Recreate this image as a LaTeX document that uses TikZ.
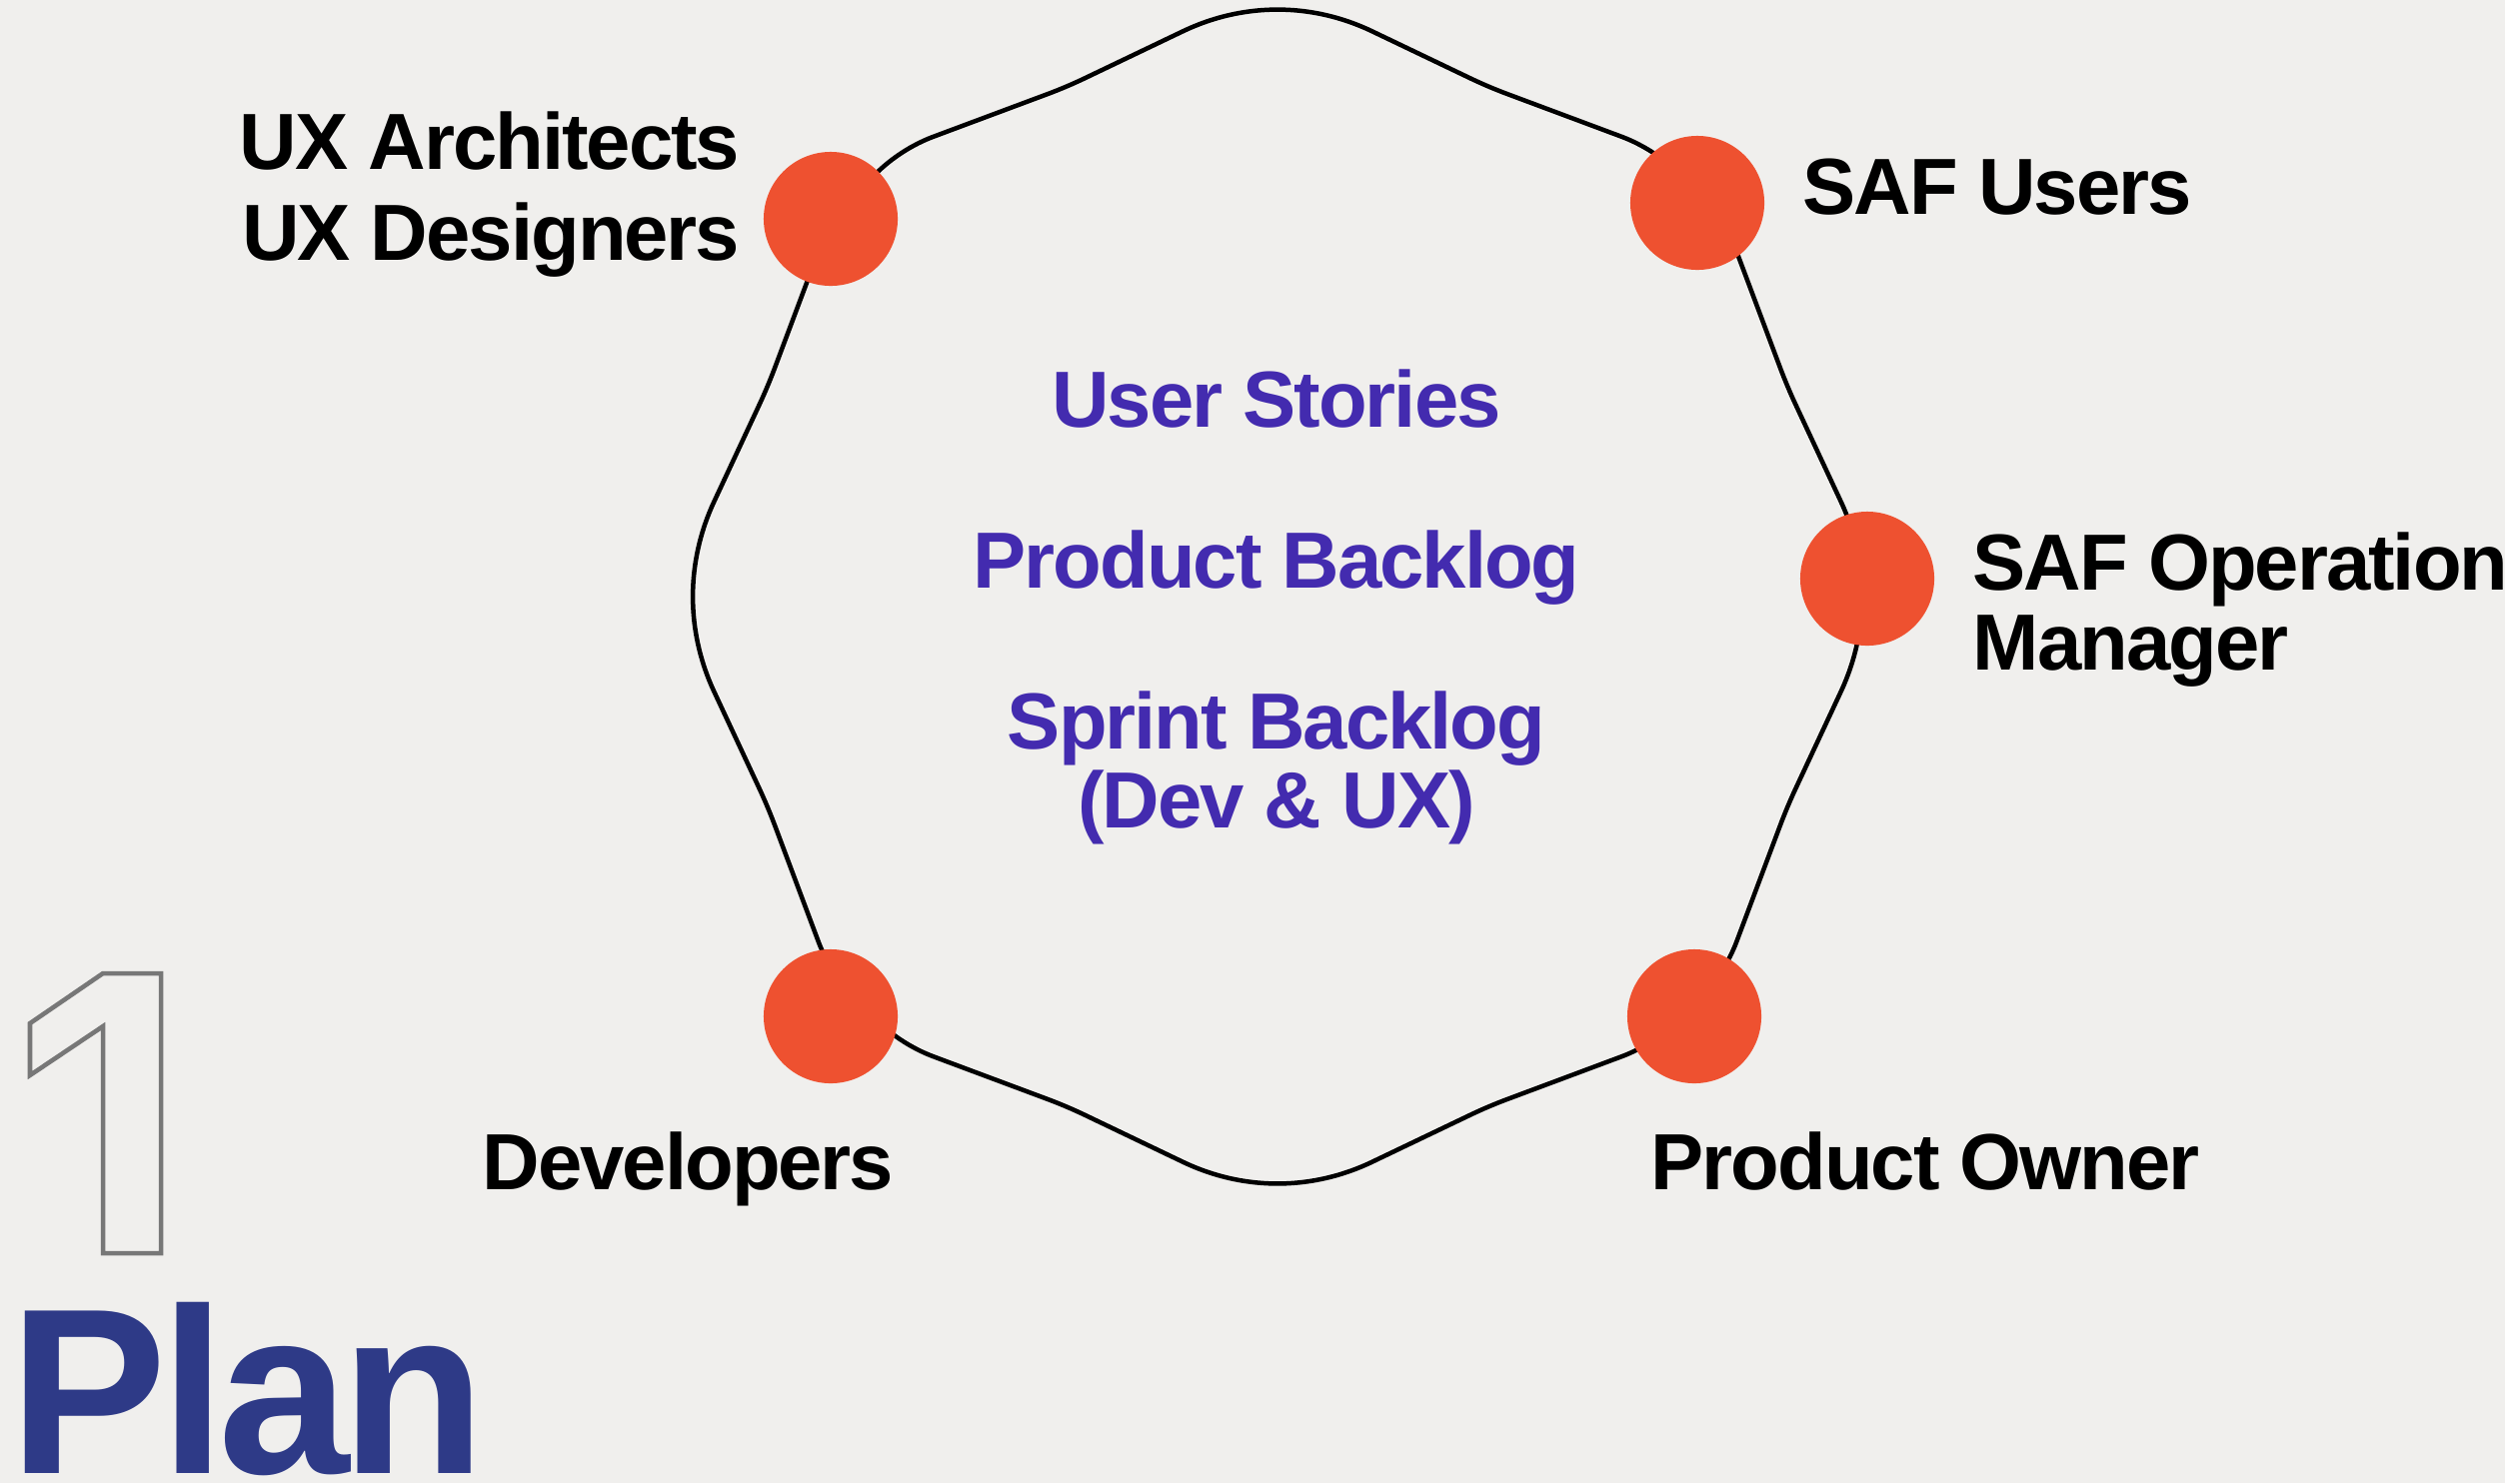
\documentclass[tikz,border=0pt]{standalone}
\usepackage{fontspec}
\usetikzlibrary{calc}
\newfontfamily\labelfont[LetterSpace=-2.5]{Liberation Sans}
\newfontfamily\titlefont[LetterSpace=-3.2]{Liberation Sans}
\definecolor{paper}{RGB}{240,239,237}
\definecolor{dotorange}{RGB}{238,81,48}
\definecolor{storyviolet}{RGB}{67,43,175}
\definecolor{plannavy}{RGB}{46,58,135}
\definecolor{numgray}{RGB}{119,119,119}
\tikzset{
  lbl/.style={inner sep=0pt, text=black,
    font=\labelfont\bfseries\fontsize{22.65}{27}\selectfont},
  mid/.style={lbl, text=storyviolet},
  dot/.style={circle, fill=dotorange, minimum size=13.4mm, inner sep=0pt},
  ring/.style={line width=0.45mm, draw=black, line join=round},
  % straight run into vertex #2 (coming from #1, leaving to #3), corner cut at distance #4
  softcorner/.style args={#1/#2/#3/#4}{insert path={
    -- ($(#2)!#4!(#1)$)
    .. controls ($(#2)!0.36*#4!(#1)$) and ($(#2)!0.36*#4!(#3)$) ..
    ($(#2)!#4!(#3)$)}},
}
\begin{document}
\begin{tikzpicture}[x=0.01cm, y=-0.01cm]
  \useasboundingbox (0,0) rectangle (2506,1484);
  \fill[paper] (0,0) rectangle (2506,1484);

  % vertices of the planning loop
  \coordinate (t)   at (1278,-14);
  \coordinate (ar)  at (1489,87);
  \coordinate (br)  at (1655,149);
  \coordinate (ur)  at (1725,219);
  \coordinate (l1r) at (1788,387);
  \coordinate (wr)  at (1886,597);
  \coordinate (l2r) at (1788,807);
  \coordinate (ubr) at (1725,975);
  \coordinate (bbr) at (1655,1045);
  \coordinate (abr) at (1489,1107);
  \coordinate (tb)  at (1278,1208);
  \coordinate (abl) at (1067,1107);
  \coordinate (bbl) at (901,1045);
  \coordinate (ubl) at (831,975);
  \coordinate (l2l) at (768,807);
  \coordinate (wl)  at (670,597);
  \coordinate (l1l) at (768,387);
  \coordinate (ul)  at (831,219);
  \coordinate (bl)  at (901,149);
  \coordinate (al)  at (1067,87);

  \draw[ring] ($(t)!10.5mm!(al)$)
    [softcorner=al/t/ar/10.5mm]
    [softcorner=t/ar/br/2mm]
    [softcorner=ar/br/ur/3.5mm]
    [softcorner=br/ur/l1r/3.5mm]
    [softcorner=ur/l1r/wr/2mm]
    [softcorner=l1r/wr/l2r/10.5mm]
    [softcorner=wr/l2r/ubr/2mm]
    [softcorner=l2r/ubr/bbr/3.5mm]
    [softcorner=ubr/bbr/abr/3.5mm]
    [softcorner=bbr/abr/tb/2mm]
    [softcorner=abr/tb/abl/10.5mm]
    [softcorner=tb/abl/bbl/2mm]
    [softcorner=abl/bbl/ubl/3.5mm]
    [softcorner=bbl/ubl/l2l/3.5mm]
    [softcorner=ubl/l2l/wl/2mm]
    [softcorner=l2l/wl/l1l/10.5mm]
    [softcorner=wl/l1l/ul/2mm]
    [softcorner=l1l/ul/bl/3.5mm]
    [softcorner=ul/bl/al/3.5mm]
    [softcorner=bl/al/t/2mm]
    -- cycle;

  % role dots on the loop
  \node[dot] (ux)    at (831,219)  {};
  \node[dot] (users) at (1698,203) {};
  \node[dot] (ops)   at (1868,579) {};
  \node[dot] (dev)   at (831,1017) {};
  \node[dot] (po)    at (1695,1017) {};

  % role labels
  \node[lbl, anchor=base east] (uxa)  at (741,169)  {UX Architects};
  \node[lbl, anchor=base east] (uxd)  at (741,260)  {UX Designers};
  \node[lbl, anchor=base west] (usrl) at (1803,214) {SAF Users};
  \node[lbl, anchor=base west] (opsa) at (1973,590) {SAF Operation};
  \node[lbl, anchor=base west] (opsb) at (1973,670) {Manager};
  \node[lbl, anchor=base west] (devl) at (482,1190) {Developers};
  \node[lbl, anchor=base west] (pol)  at (1651,1190) {Product Owner};

  % artefacts in the middle
  \node[mid, anchor=base] (stories) at (1277,427) {User Stories};
  \node[mid, anchor=base] (pback)   at (1277,588) {Product Backlog};
  \node[mid, anchor=base] (sback)   at (1277,749) {Sprint Backlog};
  \node[mid, anchor=base] (devux)   at (1277,828) {(Dev \& UX)};

  % outlined step number
  \draw[numgray, line width=0.45mm, line join=miter]
    (30,1024) -- (103,974) -- (161,974) -- (161,1254) -- (103,1254)
    -- (103,1027) -- (30,1076) -- cycle;

  % phase title
  \node[inner sep=0pt, anchor=base west, text=plannavy,
        font=\titlefont\bfseries\fontsize{67.2}{80}\selectfont] (plan) at (9,1474) {Plan};
\end{tikzpicture}
\end{document}
